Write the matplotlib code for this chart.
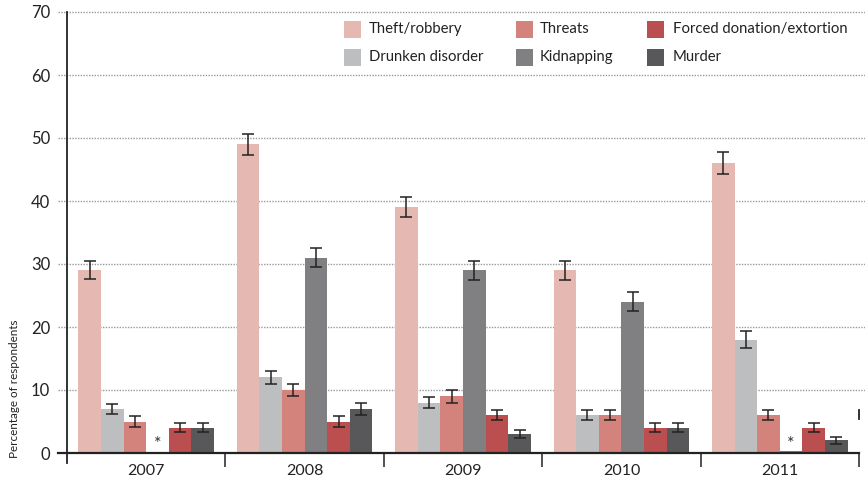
import matplotlib
matplotlib.use("Agg")
import matplotlib.pyplot as plt
from matplotlib.patches import Rectangle
import numpy as np

years = ["2007", "2008", "2009", "2010", "2011"]
categories = ["Theft/robbery", "Drunken disorder", "Threats", "Kidnapping",
              "Forced donation/extortion", "Murder"]
theft = [29, 49, 39, 29, 46]
drunken = [7, 12, 8, 6, 18]
threats = [5, 10, 9, 6, 6]
kidnapping = [0, 31, 29, 24, 0.3]
forced = [4, 5, 6, 4, 4]
murder = [4, 7, 3, 4, 2]
theft_err = [1.4, 1.7, 1.6, 1.5, 1.7]
drunken_err = [0.8, 1.0, 0.9, 0.8, 1.3]
threats_err = [0.8, 1.0, 1.0, 0.8, 0.8]
kidnapping_err = [None, 1.5, 1.5, 1.5, None]
forced_err = [0.7, 0.8, 0.8, 0.7, 0.7]
murder_err = [0.7, 0.9, 0.6, 0.7, 0.6]
star_marks = [(0, 3), (4, 3)]  # (year index, category index) flagged with *

colors = ["#E6B8B2", "#BDBEC0", "#D4827C", "#808083", "#BB4F4F", "#58585A"]
series = [theft, drunken, threats, kidnapping, forced, murder]
errs = [theft_err, drunken_err, threats_err, kidnapping_err, forced_err, murder_err]

plt.rcParams['font.family'] = ['Lato', 'DejaVu Sans']

W, H = 865, 482
fig = plt.figure(figsize=(8.65, 4.82), dpi=100)
ax = fig.add_axes([67/W, 29/H, (859-67)/W, (453-12)/H])

n = len(categories)
group_w = 0.857
bw = group_w / n
x = np.arange(len(years))
for i, (vals, e, c, lab) in enumerate(zip(series, errs, colors, categories)):
    pos = x - group_w/2 + bw*(i+0.5)
    ax.bar(pos, vals, width=bw, color=c, label=lab, zorder=3)
    for p, v, ee in zip(pos, vals, e):
        if ee is not None:
            ax.errorbar(p, v, yerr=ee, fmt='none', ecolor='#222222',
                        elinewidth=1.1, capsize=4, capthick=1.1, zorder=4)
for yi, ci in star_marks:
    p = x[yi] - group_w/2 + bw*(ci+0.5)
    ax.text(p, 1.4, "*", ha='center', va='center', fontsize=13, color='#333333')

ax.set_xlim(-0.5, len(years)-0.5)
ax.set_ylim(0, 70)
for s in ['top', 'right', 'left', 'bottom']:
    ax.spines[s].set_visible(False)

# gridlines (dotted), extending a bit left of the axis
for yv in range(10, 71, 10):
    ax.plot([-0.557, 4.54], [yv, yv], color='#999999', lw=1.0, ls=(0, (1, 1)),
            clip_on=False, zorder=1)
# axis lines
ax.plot([-0.557, 4.5], [0, 0], color='#222222', lw=1.6, clip_on=False, zorder=5)
ax.plot([-0.5, -0.5], [-1.6, 70], color='#222222', lw=1.3, clip_on=False, zorder=5)
# small stray mark at right edge in the original
ax.plot([4.5, 4.5], [5.4, 6.8], color='#222222', lw=1.3, clip_on=False, zorder=5)

ax.set_yticks(range(0, 71, 10))
ax.tick_params(axis='y', length=0, pad=12, labelsize=12, labelcolor='#222222')
ax.set_xticks(x)
ax.set_xticklabels(years)
ax.tick_params(axis='x', which='major', length=0, pad=8, labelsize=11.5, labelcolor='#222222')
ax.set_xticks(np.arange(0.5, len(years), 1.0), minor=True)
ax.tick_params(axis='x', which='minor', length=10, width=1.1, color='#222222', direction='out')

ax.set_ylabel("Percentage of respondents", fontsize=8.4, color='#222222')
ax.yaxis.set_label_coords(-(67-20)/(859-67), (453-389)/(453-12))

# manual legend (3 columns x 2 rows)
patch_left = [344, 516, 647]
text_left = [369, 540, 673]
row_y = [29, 57]
psz = 17
for k, (lab, c) in enumerate(zip(categories, colors)):
    col, row = k // 2, k % 2
    fig.add_artist(Rectangle((patch_left[col]/W, 1 - (row_y[row] + psz/2)/H),
                             psz/W, psz/H, transform=fig.transFigure,
                             facecolor=c, edgecolor='none'))
    fig.text(text_left[col]/W, 1 - row_y[row]/H, lab, ha='left', va='center',
             fontsize=10.7, color='#222222')

fig.savefig("out.png", dpi=100)
